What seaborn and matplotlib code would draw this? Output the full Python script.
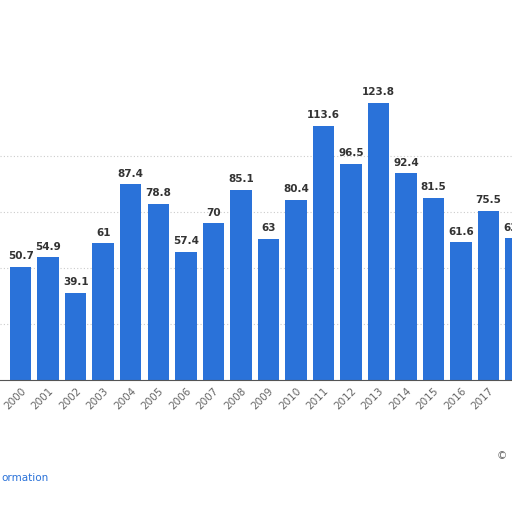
import matplotlib
matplotlib.use("Agg")
import matplotlib.pyplot as plt
import seaborn as sns
import pandas as pd

years = [str(y) for y in range(2000, 2019)]
values = [50.7, 54.9, 39.1, 61, 87.4, 78.8, 57.4, 70, 85.1, 63, 80.4, 113.6, 96.5, 123.8, 92.4, 81.5, 61.6, 75.5, 63.4]
labels = ["50.7", "54.9", "39.1", "61", "87.4", "78.8", "57.4", "70", "85.1", "63", "80.4", "113.6", "96.5", "123.8", "92.4", "81.5", "61.6", "75.5", "63.4"]

df = pd.DataFrame({"year": years, "value": values})
sns.set_style("white")
fig = plt.figure(figsize=(5.12, 5.12), dpi=100)
fig.patch.set_facecolor("white")
ax = fig.add_axes([0, 132/512, 1, 320/512])
sns.barplot(data=df, x="year", y="value", color="#2a72d9", saturation=1, width=0.78,
            linewidth=0, ax=ax)
ax.set_xlim(-0.75, 17.85)
ax.set_ylim(0, 143)
for s in ["top", "right", "left"]:
    ax.spines[s].set_visible(False)
ax.spines["bottom"].set_color("#555555")
ax.set_yticks([25, 50, 75, 100])
ax.set_yticklabels([])
ax.tick_params(axis="y", length=0)
ax.grid(axis="y", linestyle=(0, (1, 2)), color="#cccccc", linewidth=0.8)
ax.set_axisbelow(True)
ax.set_xlabel("")
ax.set_ylabel("")
ax.tick_params(axis="x", length=0, labelsize=7.5, labelcolor="#666666", pad=4)
plt.setp(ax.get_xticklabels(), rotation=45, ha="right", rotation_mode="anchor")
for p, lab in zip(ax.patches, labels):
    ax.text(p.get_x() + p.get_width()/2, p.get_height() + 2.5, lab, ha="center", va="bottom",
            fontsize=7.5, fontweight="bold", color="#333333")
fig.text(0.002, 1 - 478/512, "ormation", fontsize=7.5, color="#2a72d9", va="center")
fig.text(0.97, 1 - 456/512, "©", fontsize=7.5, color="#666666", va="center")
fig.savefig("out.png", dpi=100)
